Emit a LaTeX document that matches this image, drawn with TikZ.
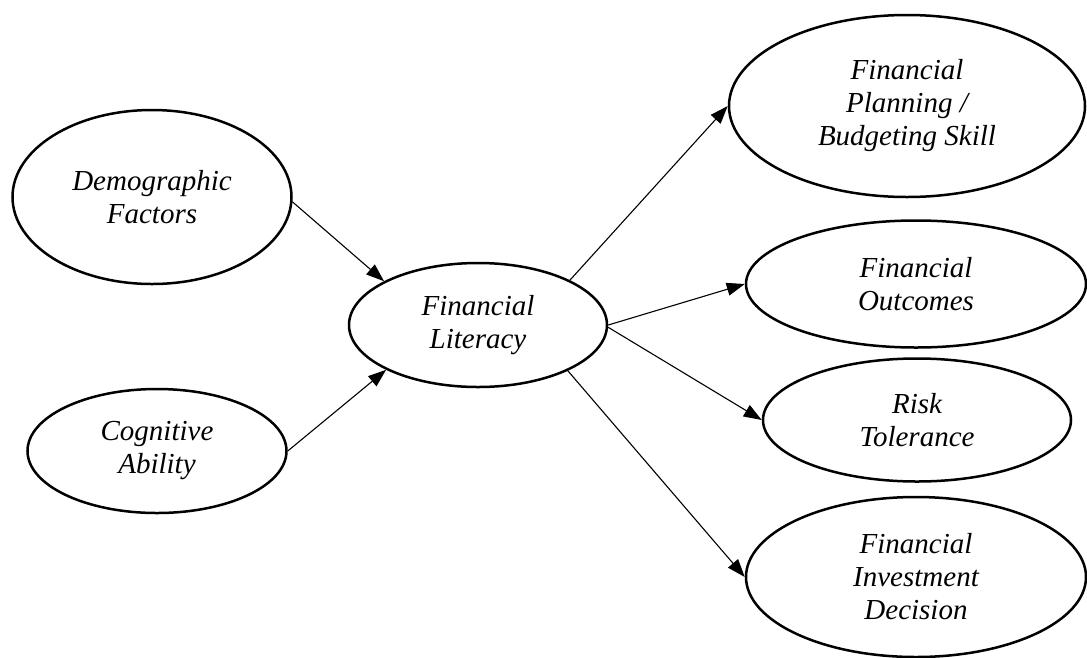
\documentclass[tikz,border=0pt]{standalone}
\usepackage{fontspec}
\setmainfont{Liberation Serif}
\usetikzlibrary{shapes.geometric,arrows.meta}
\begin{document}
\begin{tikzpicture}[x=1pt,y=-1pt,
  oval/.style={draw, ellipse, line width=2.5pt, inner sep=0pt, align=center,
    font=\fontsize{29}{33}\selectfont\itshape},
  link/.style={line width=1.1pt, -{Triangle[length=18pt,width=13pt]}}]
\useasboundingbox (0,0) rectangle (1087,657);
\node[oval, minimum width=279pt, minimum height=174pt] (dem) at (152,197) {Demographic\\Factors};
\node[oval, minimum width=259pt, minimum height=124pt] (cog) at (157,451) {Cognitive\\Ability};
\node[oval, minimum width=258pt, minimum height=124pt] (lit) at (478,325) {Financial\\Literacy};
\node[oval, minimum width=356pt, minimum height=182pt] (plan) at (907,106) {Financial\\Planning /\\Budgeting Skill};
\node[oval, minimum width=340pt, minimum height=127pt] (out) at (916,284) {Financial\\Outcomes};
\node[oval, minimum width=308pt, minimum height=123pt] (risk) at (917,420) {Risk\\Tolerance};
\node[oval, minimum width=340pt, minimum height=160pt] (inv) at (916,577) {Financial\\Investment\\Decision};
\draw[link] (dem.-2) -- (lit.155);
\draw[link] (cog.east) -- (lit.206);
\draw[link] (lit.26) -- (plan.west);
\draw[link] (lit.east) -- (out.west);
\draw[link] (lit.-1) -- (risk.west);
\draw[link] (lit.-27) -- (inv.west);
\end{tikzpicture}
\end{document}
